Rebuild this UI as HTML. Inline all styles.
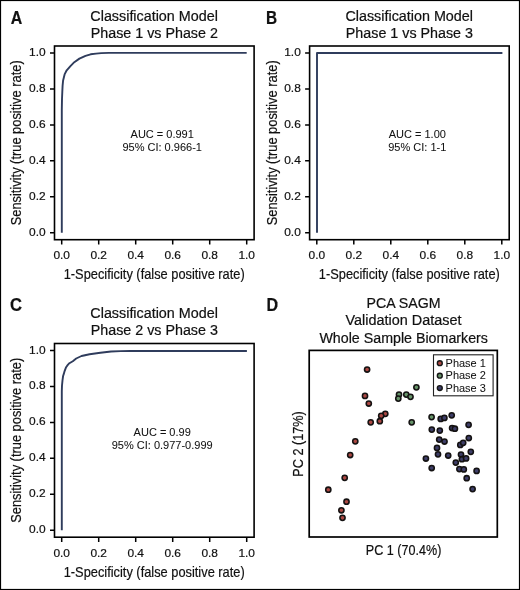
<!DOCTYPE html>
<html><head><meta charset="utf-8"><style>
html,body{margin:0;padding:0;background:#fff;}
svg{display:block;will-change:transform;}
text{font-family:"Liberation Sans", sans-serif;fill:#111;stroke:#111;stroke-width:0.2px;}
text.s{stroke-width:0.05px;}
</style></head><body>
<svg width="520" height="590" viewBox="0 0 520 590">
<rect x="0" y="0" width="520" height="590" fill="#fff"/>
<rect x="0.5" y="0.5" width="519" height="589" fill="none" stroke="#000" stroke-width="1.2"/>
<rect x="54.50" y="46.00" width="199.60" height="193.70" fill="none" stroke="#000" stroke-width="1.6"/>
<path d="M50.00 232.70H54.50M61.70 239.70V244.40M50.00 196.78H54.50M98.70 239.70V244.40M50.00 160.86H54.50M135.70 239.70V244.40M50.00 124.94H54.50M172.70 239.70V244.40M50.00 89.02H54.50M209.70 239.70V244.40M50.00 53.10H54.50M246.70 239.70V244.40" stroke="#000" stroke-width="1.5" fill="none"/>
<text x="45.70" y="235.60" font-size="11.5" text-anchor="end" textLength="16.6" lengthAdjust="spacingAndGlyphs">0.0</text>
<text x="61.70" y="259.20" font-size="11.5" text-anchor="middle" textLength="16.6" lengthAdjust="spacingAndGlyphs">0.0</text>
<text x="45.70" y="199.68" font-size="11.5" text-anchor="end" textLength="16.6" lengthAdjust="spacingAndGlyphs">0.2</text>
<text x="98.70" y="259.20" font-size="11.5" text-anchor="middle" textLength="16.6" lengthAdjust="spacingAndGlyphs">0.2</text>
<text x="45.70" y="163.76" font-size="11.5" text-anchor="end" textLength="16.6" lengthAdjust="spacingAndGlyphs">0.4</text>
<text x="135.70" y="259.20" font-size="11.5" text-anchor="middle" textLength="16.6" lengthAdjust="spacingAndGlyphs">0.4</text>
<text x="45.70" y="127.84" font-size="11.5" text-anchor="end" textLength="16.6" lengthAdjust="spacingAndGlyphs">0.6</text>
<text x="172.70" y="259.20" font-size="11.5" text-anchor="middle" textLength="16.6" lengthAdjust="spacingAndGlyphs">0.6</text>
<text x="45.70" y="91.92" font-size="11.5" text-anchor="end" textLength="16.6" lengthAdjust="spacingAndGlyphs">0.8</text>
<text x="209.70" y="259.20" font-size="11.5" text-anchor="middle" textLength="16.6" lengthAdjust="spacingAndGlyphs">0.8</text>
<text x="45.70" y="56.00" font-size="11.5" text-anchor="end" textLength="16.6" lengthAdjust="spacingAndGlyphs">1.0</text>
<text x="246.70" y="259.20" font-size="11.5" text-anchor="middle" textLength="16.6" lengthAdjust="spacingAndGlyphs">1.0</text>
<text x="154.10" y="20.60" font-size="14" text-anchor="middle" textLength="127.5" lengthAdjust="spacingAndGlyphs">Classification Model</text>
<text x="154.30" y="37.70" font-size="14" text-anchor="middle" textLength="127.2" lengthAdjust="spacingAndGlyphs">Phase 1 vs Phase 2</text>
<text x="154.20" y="279.10" font-size="14.5" text-anchor="middle" textLength="181" lengthAdjust="spacingAndGlyphs">1-Specificity (false positive rate)</text>
<text transform="translate(21.40 142.80) rotate(-90)" x="0" y="0" font-size="14.5" text-anchor="middle" textLength="165" lengthAdjust="spacingAndGlyphs">Sensitivity (true positive rate)</text>
<text x="162.20" y="138.00" font-size="11" text-anchor="middle" class="s">AUC = 0.991</text>
<text x="162.20" y="151.20" font-size="11" text-anchor="middle" class="s">95% CI: 0.966-1</text>
<polyline points="61.80,232.70 61.80,110.00 62.00,99.00 62.30,92.00 62.60,85.60 63.10,80.50 64.60,74.40 66.70,70.30 70.20,66.30 74.30,62.20 79.40,58.60 85.50,55.80 90.60,54.30 96.00,53.60 101.20,53.10 108.80,52.90 246.70,52.90" fill="none" stroke="#2f3c5c" stroke-width="1.9" stroke-linejoin="round" stroke-linecap="butt"/>
<rect x="309.60" y="46.00" width="199.60" height="193.70" fill="none" stroke="#000" stroke-width="1.6"/>
<path d="M305.10 232.70H309.60M316.80 239.70V244.40M305.10 196.78H309.60M353.80 239.70V244.40M305.10 160.86H309.60M390.80 239.70V244.40M305.10 124.94H309.60M427.80 239.70V244.40M305.10 89.02H309.60M464.80 239.70V244.40M305.10 53.10H309.60M501.80 239.70V244.40" stroke="#000" stroke-width="1.5" fill="none"/>
<text x="300.80" y="235.60" font-size="11.5" text-anchor="end" textLength="16.6" lengthAdjust="spacingAndGlyphs">0.0</text>
<text x="316.80" y="259.20" font-size="11.5" text-anchor="middle" textLength="16.6" lengthAdjust="spacingAndGlyphs">0.0</text>
<text x="300.80" y="199.68" font-size="11.5" text-anchor="end" textLength="16.6" lengthAdjust="spacingAndGlyphs">0.2</text>
<text x="353.80" y="259.20" font-size="11.5" text-anchor="middle" textLength="16.6" lengthAdjust="spacingAndGlyphs">0.2</text>
<text x="300.80" y="163.76" font-size="11.5" text-anchor="end" textLength="16.6" lengthAdjust="spacingAndGlyphs">0.4</text>
<text x="390.80" y="259.20" font-size="11.5" text-anchor="middle" textLength="16.6" lengthAdjust="spacingAndGlyphs">0.4</text>
<text x="300.80" y="127.84" font-size="11.5" text-anchor="end" textLength="16.6" lengthAdjust="spacingAndGlyphs">0.6</text>
<text x="427.80" y="259.20" font-size="11.5" text-anchor="middle" textLength="16.6" lengthAdjust="spacingAndGlyphs">0.6</text>
<text x="300.80" y="91.92" font-size="11.5" text-anchor="end" textLength="16.6" lengthAdjust="spacingAndGlyphs">0.8</text>
<text x="464.80" y="259.20" font-size="11.5" text-anchor="middle" textLength="16.6" lengthAdjust="spacingAndGlyphs">0.8</text>
<text x="300.80" y="56.00" font-size="11.5" text-anchor="end" textLength="16.6" lengthAdjust="spacingAndGlyphs">1.0</text>
<text x="501.80" y="259.20" font-size="11.5" text-anchor="middle" textLength="16.6" lengthAdjust="spacingAndGlyphs">1.0</text>
<text x="409.20" y="20.60" font-size="14" text-anchor="middle" textLength="127.5" lengthAdjust="spacingAndGlyphs">Classification Model</text>
<text x="409.40" y="37.70" font-size="14" text-anchor="middle" textLength="127.2" lengthAdjust="spacingAndGlyphs">Phase 1 vs Phase 3</text>
<text x="409.30" y="279.10" font-size="14.5" text-anchor="middle" textLength="181" lengthAdjust="spacingAndGlyphs">1-Specificity (false positive rate)</text>
<text transform="translate(276.50 142.80) rotate(-90)" x="0" y="0" font-size="14.5" text-anchor="middle" textLength="165" lengthAdjust="spacingAndGlyphs">Sensitivity (true positive rate)</text>
<text x="417.30" y="138.00" font-size="11" text-anchor="middle" class="s">AUC = 1.00</text>
<text x="417.30" y="151.20" font-size="11" text-anchor="middle" class="s">95% CI: 1-1</text>
<polyline points="317.00,232.70 317.00,53.00 502.40,53.00" fill="none" stroke="#2f3c5c" stroke-width="1.9" stroke-linejoin="round" stroke-linecap="butt"/>
<rect x="54.50" y="343.50" width="199.60" height="193.70" fill="none" stroke="#000" stroke-width="1.6"/>
<path d="M50.00 530.20H54.50M61.70 537.20V541.90M50.00 494.28H54.50M98.70 537.20V541.90M50.00 458.36H54.50M135.70 537.20V541.90M50.00 422.44H54.50M172.70 537.20V541.90M50.00 386.52H54.50M209.70 537.20V541.90M50.00 350.60H54.50M246.70 537.20V541.90" stroke="#000" stroke-width="1.5" fill="none"/>
<text x="45.70" y="533.10" font-size="11.5" text-anchor="end" textLength="16.6" lengthAdjust="spacingAndGlyphs">0.0</text>
<text x="61.70" y="556.70" font-size="11.5" text-anchor="middle" textLength="16.6" lengthAdjust="spacingAndGlyphs">0.0</text>
<text x="45.70" y="497.18" font-size="11.5" text-anchor="end" textLength="16.6" lengthAdjust="spacingAndGlyphs">0.2</text>
<text x="98.70" y="556.70" font-size="11.5" text-anchor="middle" textLength="16.6" lengthAdjust="spacingAndGlyphs">0.2</text>
<text x="45.70" y="461.26" font-size="11.5" text-anchor="end" textLength="16.6" lengthAdjust="spacingAndGlyphs">0.4</text>
<text x="135.70" y="556.70" font-size="11.5" text-anchor="middle" textLength="16.6" lengthAdjust="spacingAndGlyphs">0.4</text>
<text x="45.70" y="425.34" font-size="11.5" text-anchor="end" textLength="16.6" lengthAdjust="spacingAndGlyphs">0.6</text>
<text x="172.70" y="556.70" font-size="11.5" text-anchor="middle" textLength="16.6" lengthAdjust="spacingAndGlyphs">0.6</text>
<text x="45.70" y="389.42" font-size="11.5" text-anchor="end" textLength="16.6" lengthAdjust="spacingAndGlyphs">0.8</text>
<text x="209.70" y="556.70" font-size="11.5" text-anchor="middle" textLength="16.6" lengthAdjust="spacingAndGlyphs">0.8</text>
<text x="45.70" y="353.50" font-size="11.5" text-anchor="end" textLength="16.6" lengthAdjust="spacingAndGlyphs">1.0</text>
<text x="246.70" y="556.70" font-size="11.5" text-anchor="middle" textLength="16.6" lengthAdjust="spacingAndGlyphs">1.0</text>
<text x="154.10" y="318.10" font-size="14" text-anchor="middle" textLength="127.5" lengthAdjust="spacingAndGlyphs">Classification Model</text>
<text x="154.30" y="335.20" font-size="14" text-anchor="middle" textLength="127.2" lengthAdjust="spacingAndGlyphs">Phase 2 vs Phase 3</text>
<text x="154.20" y="576.60" font-size="14.5" text-anchor="middle" textLength="181" lengthAdjust="spacingAndGlyphs">1-Specificity (false positive rate)</text>
<text transform="translate(21.40 440.30) rotate(-90)" x="0" y="0" font-size="14.5" text-anchor="middle" textLength="165" lengthAdjust="spacingAndGlyphs">Sensitivity (true positive rate)</text>
<text x="162.20" y="435.50" font-size="11" text-anchor="middle" class="s">AUC = 0.99</text>
<text x="162.20" y="448.70" font-size="11" text-anchor="middle" class="s">95% CI: 0.977-0.999</text>
<polyline points="61.80,530.20 61.80,391.20 62.00,385.50 62.50,380.40 63.10,376.00 63.80,373.90 64.60,371.10 66.10,367.20 67.80,364.90 69.40,363.20 72.80,361.20 76.20,358.50 81.50,356.00 89.60,354.20 100.40,352.80 111.10,351.50 120.60,351.10 130.00,350.95 246.90,350.95" fill="none" stroke="#2f3c5c" stroke-width="1.9" stroke-linejoin="round" stroke-linecap="butt"/>
<text x="10.70" y="23.50" font-size="17.5" textLength="11.5" lengthAdjust="spacingAndGlyphs" font-weight="bold">A</text>
<text x="266.00" y="23.60" font-size="17.5" textLength="11.1" lengthAdjust="spacingAndGlyphs" font-weight="bold">B</text>
<text x="10.00" y="311.00" font-size="17.5" textLength="12.0" lengthAdjust="spacingAndGlyphs" font-weight="bold">C</text>
<text x="266.50" y="310.70" font-size="17.5" textLength="11.6" lengthAdjust="spacingAndGlyphs" font-weight="bold">D</text>
<rect x="309.2" y="350.4" width="188.1" height="186.6" fill="none" stroke="#000" stroke-width="1.7"/>
<text x="403.60" y="307.90" font-size="14" text-anchor="middle" textLength="74" lengthAdjust="spacingAndGlyphs">PCA SAGM</text>
<text x="403.50" y="325.20" font-size="14" text-anchor="middle" textLength="116" lengthAdjust="spacingAndGlyphs">Validation Dataset</text>
<text x="403.70" y="342.80" font-size="14" text-anchor="middle" textLength="168.5" lengthAdjust="spacingAndGlyphs">Whole Sample Biomarkers</text>
<text x="403.60" y="555.20" font-size="14.5" text-anchor="middle" textLength="75.5" lengthAdjust="spacingAndGlyphs">PC 1 (70.4%)</text>
<text transform="translate(303 443.9) rotate(-90)" x="0" y="0" font-size="14.5" text-anchor="middle" textLength="65.5" lengthAdjust="spacingAndGlyphs">PC 2 (17%)</text>
<circle cx="367.1" cy="369.5" r="2.6" fill="#ab4843" stroke="#141212" stroke-width="1.55"/>
<circle cx="365" cy="395.9" r="2.6" fill="#ab4843" stroke="#141212" stroke-width="1.55"/>
<circle cx="368.8" cy="403.5" r="2.6" fill="#ab4843" stroke="#141212" stroke-width="1.55"/>
<circle cx="385.3" cy="413.8" r="2.6" fill="#ab4843" stroke="#141212" stroke-width="1.55"/>
<circle cx="381.2" cy="415.8" r="2.6" fill="#ab4843" stroke="#141212" stroke-width="1.55"/>
<circle cx="379.8" cy="421.2" r="2.6" fill="#ab4843" stroke="#141212" stroke-width="1.55"/>
<circle cx="370.7" cy="422.3" r="2.6" fill="#ab4843" stroke="#141212" stroke-width="1.55"/>
<circle cx="355.3" cy="441.3" r="2.6" fill="#ab4843" stroke="#141212" stroke-width="1.55"/>
<circle cx="350.2" cy="455" r="2.6" fill="#ab4843" stroke="#141212" stroke-width="1.55"/>
<circle cx="344.7" cy="477.8" r="2.6" fill="#ab4843" stroke="#141212" stroke-width="1.55"/>
<circle cx="328.3" cy="489.7" r="2.6" fill="#ab4843" stroke="#141212" stroke-width="1.55"/>
<circle cx="346.5" cy="501.7" r="2.6" fill="#ab4843" stroke="#141212" stroke-width="1.55"/>
<circle cx="341.4" cy="510.3" r="2.6" fill="#ab4843" stroke="#141212" stroke-width="1.55"/>
<circle cx="342.5" cy="517.8" r="2.6" fill="#ab4843" stroke="#141212" stroke-width="1.55"/>
<circle cx="416.4" cy="387.3" r="2.6" fill="#67946a" stroke="#141212" stroke-width="1.55"/>
<circle cx="399.0" cy="394.6" r="2.6" fill="#67946a" stroke="#141212" stroke-width="1.55"/>
<circle cx="398.3" cy="398.6" r="2.6" fill="#67946a" stroke="#141212" stroke-width="1.55"/>
<circle cx="406.3" cy="394.6" r="2.6" fill="#67946a" stroke="#141212" stroke-width="1.55"/>
<circle cx="410.5" cy="396.8" r="2.6" fill="#67946a" stroke="#141212" stroke-width="1.55"/>
<circle cx="411.7" cy="422.3" r="2.6" fill="#67946a" stroke="#141212" stroke-width="1.55"/>
<circle cx="431.6" cy="417.1" r="2.6" fill="#67946a" stroke="#141212" stroke-width="1.55"/>
<circle cx="440.7" cy="418.9" r="2.6" fill="#3e3e68" stroke="#141212" stroke-width="1.55"/>
<circle cx="444.4" cy="417.9" r="2.6" fill="#3e3e68" stroke="#141212" stroke-width="1.55"/>
<circle cx="451.7" cy="415.3" r="2.6" fill="#3e3e68" stroke="#141212" stroke-width="1.55"/>
<circle cx="468.6" cy="424.8" r="2.6" fill="#3e3e68" stroke="#141212" stroke-width="1.55"/>
<circle cx="431.8" cy="429.6" r="2.6" fill="#3e3e68" stroke="#141212" stroke-width="1.55"/>
<circle cx="439.8" cy="430.6" r="2.6" fill="#3e3e68" stroke="#141212" stroke-width="1.55"/>
<circle cx="452.1" cy="428.1" r="2.6" fill="#3e3e68" stroke="#141212" stroke-width="1.55"/>
<circle cx="454.9" cy="428.7" r="2.6" fill="#3e3e68" stroke="#141212" stroke-width="1.55"/>
<circle cx="439.2" cy="439.6" r="2.6" fill="#3e3e68" stroke="#141212" stroke-width="1.55"/>
<circle cx="444.5" cy="441.5" r="2.6" fill="#3e3e68" stroke="#141212" stroke-width="1.55"/>
<circle cx="468.8" cy="438" r="2.6" fill="#3e3e68" stroke="#141212" stroke-width="1.55"/>
<circle cx="460.3" cy="444.9" r="2.6" fill="#3e3e68" stroke="#141212" stroke-width="1.55"/>
<circle cx="463.2" cy="442.8" r="2.6" fill="#3e3e68" stroke="#141212" stroke-width="1.55"/>
<circle cx="437.0" cy="447.9" r="2.6" fill="#3e3e68" stroke="#141212" stroke-width="1.55"/>
<circle cx="438" cy="454.3" r="2.6" fill="#3e3e68" stroke="#141212" stroke-width="1.55"/>
<circle cx="448.2" cy="455.5" r="2.6" fill="#3e3e68" stroke="#141212" stroke-width="1.55"/>
<circle cx="470.8" cy="451.8" r="2.6" fill="#3e3e68" stroke="#141212" stroke-width="1.55"/>
<circle cx="461.0" cy="454.5" r="2.6" fill="#3e3e68" stroke="#141212" stroke-width="1.55"/>
<circle cx="425.9" cy="458.5" r="2.6" fill="#3e3e68" stroke="#141212" stroke-width="1.55"/>
<circle cx="461.9" cy="459.2" r="2.6" fill="#3e3e68" stroke="#141212" stroke-width="1.55"/>
<circle cx="466.1" cy="458.4" r="2.6" fill="#3e3e68" stroke="#141212" stroke-width="1.55"/>
<circle cx="455.8" cy="462.6" r="2.6" fill="#3e3e68" stroke="#141212" stroke-width="1.55"/>
<circle cx="431.7" cy="468" r="2.6" fill="#3e3e68" stroke="#141212" stroke-width="1.55"/>
<circle cx="459.4" cy="469.1" r="2.6" fill="#3e3e68" stroke="#141212" stroke-width="1.55"/>
<circle cx="463.8" cy="469.4" r="2.6" fill="#3e3e68" stroke="#141212" stroke-width="1.55"/>
<circle cx="476.6" cy="470.9" r="2.6" fill="#3e3e68" stroke="#141212" stroke-width="1.55"/>
<circle cx="466.7" cy="478.2" r="2.6" fill="#3e3e68" stroke="#141212" stroke-width="1.55"/>
<circle cx="472.6" cy="489.1" r="2.6" fill="#3e3e68" stroke="#141212" stroke-width="1.55"/>
<rect x="433.5" y="354.8" width="59.6" height="41.0" fill="#fff" stroke="#222" stroke-width="1.1"/>
<circle cx="439.8" cy="363.20" r="2.45" fill="#ab4843" stroke="#141414" stroke-width="1.4"/>
<text x="445.60" y="366.70" font-size="11" textLength="40.2" lengthAdjust="spacingAndGlyphs" class="s">Phase 1</text>
<circle cx="439.8" cy="375.65" r="2.45" fill="#67946a" stroke="#141414" stroke-width="1.4"/>
<text x="445.60" y="379.15" font-size="11" textLength="40.2" lengthAdjust="spacingAndGlyphs" class="s">Phase 2</text>
<circle cx="439.8" cy="388.10" r="2.45" fill="#3e3e68" stroke="#141414" stroke-width="1.4"/>
<text x="445.60" y="391.60" font-size="11" textLength="40.2" lengthAdjust="spacingAndGlyphs" class="s">Phase 3</text>
</svg>
</body></html>
